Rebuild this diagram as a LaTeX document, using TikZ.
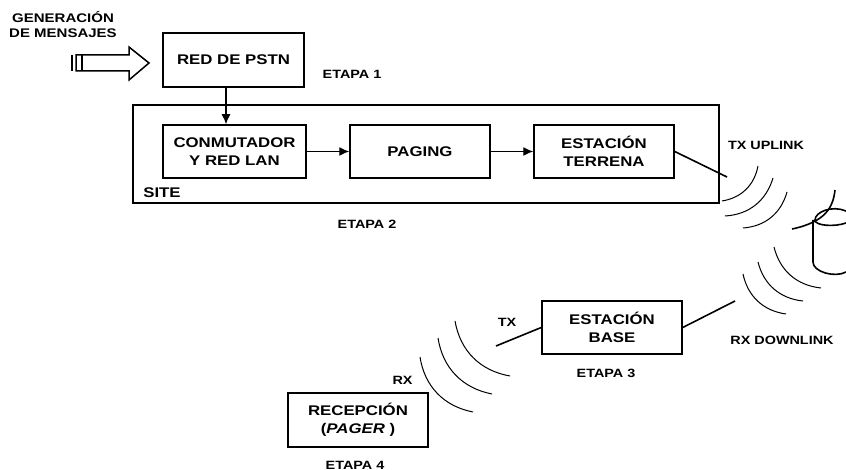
\documentclass[tikz,border=0pt]{standalone}
\usepackage{fontspec}
\setmainfont{Liberation Sans}[FakeStretch=1.2]
\usetikzlibrary{arrows.meta}
\begin{document}
\begin{tikzpicture}[
        x=1pt, y=-1pt,
        caja/.style={rectangle, draw=black, line width=1.5pt, align=center, font=\fontsize{14}{18}\selectfont\bfseries},
        etiqueta/.style={align=center, inner sep=0pt, font=\fontsize{12}{15}\selectfont\bfseries},
        flecha/.style={line width=1.3pt, -{Latex[length=10pt,width=9pt]}},
        enlace/.style={line width=1.6pt},
        onda/.style={line width=1pt}
    ]
        \useasboundingbox (0,0) rectangle (846,470);

        \node (site) [rectangle, draw=black, line width=1.5pt, minimum width=586pt, minimum height=98pt, inner sep=0pt] at (426,154) {};
        \node (pstn) [caja, minimum width=141pt, minimum height=54pt] at (233.5,60) {RED DE PSTN};
        \node (conm) [caja, minimum width=143pt, minimum height=53pt] at (234.5,151.5) {CONMUTADOR\\Y RED LAN};
        \node (paging) [caja, minimum width=140pt, minimum height=53pt] at (420,151.5) {PAGING};
        \node (terrena) [caja, minimum width=140pt, minimum height=53pt] at (604,151.5) {ESTACIÓN\\TERRENA};
        \node (base) [caja, minimum width=140pt, minimum height=53pt] at (612,327.5) {ESTACIÓN\\BASE};
        \node (pager) [caja, minimum width=140pt, minimum height=54pt] at (358,420) {RECEPCIÓN\\(\textit{PAGER} )};

        \node (gen) [etiqueta, font=\fontsize{12.5}{15}\selectfont\bfseries] at (63,24.5) {GENERACIÓN\\DE MENSAJES};
        \node (etapa1) [etiqueta] at (352,74.5) {ETAPA 1};
        \node (etapa2) [etiqueta] at (367,224) {ETAPA 2};
        \node (etapa3) [etiqueta] at (606,373) {ETAPA 3};
        \node (etapa4) [etiqueta] at (355,465) {ETAPA 4};
        \node (lblsite) [etiqueta, font=\fontsize{14}{15}\selectfont\bfseries] at (162,193) {SITE};
        \node (uplink) [etiqueta] at (766,145) {TX UPLINK};
        \node (downlink) [etiqueta] at (782,340) {RX DOWNLINK};
        \node (lbltx) [etiqueta] at (507,322) {TX};
        \node (lblrx) [etiqueta] at (402.5,380) {RX};

        % flecha de mensajes
        \draw [line width=1.5pt] (76,55) -- (129,55) -- (129,47) -- (149,63) -- (129,80) -- (129,71) -- (76,71) -- cycle;
        \draw [line width=2.5pt] (72,55) -- (72,71);
        \draw [line width=1.8pt] (82,55) -- (82,71);

        \draw [flecha] ([xshift=-7.5pt]pstn.south) -- ([xshift=-8.5pt]conm.north);
        \draw [flecha] (conm) -- (paging);
        \draw [flecha] (paging) -- (terrena);

        \coordinate (txup) at (727,177);
        \coordinate (rxdown) at (735,301);
        \coordinate (txbase) at (496,346);
        \draw [enlace] (terrena.east) -- (txup);
        \draw [enlace] (base.east) -- (rxdown);
        \draw [enlace] (base.west) -- (txbase);

        % ondas
        \draw [onda] (758,166) to[bend left=35] (722,201);
        \draw [onda] (773,178) to[bend left=35] (725,216);
        \draw [onda] (787,192) to[bend left=35] (743,228);
        \draw [onda] (774,247) to[bend right=35] (821,288);
        \draw [onda] (758,262) to[bend right=35] (803,301);
        \draw [onda] (743,274) to[bend right=35] (786,314);
        \draw [onda] (455,321) to[bend right=35] (510,376);
        \draw [onda] (438,338) to[bend right=35] (492,394);
        \draw [onda] (420,357) to[bend right=35] (473,412);

        % satelite
        \draw [enlace] (835,190) .. controls (833,208) and (825,222) .. (792,229);
        \draw [enlace] (846,211) .. controls (832,205) and (815,212) .. (815,220) .. controls (815,226) and (835,227) .. (846,223);
        \draw [enlace] (813,220) -- (813,262) .. controls (813,272) and (835,278) .. (846,272);
\end{tikzpicture}
\end{document}
